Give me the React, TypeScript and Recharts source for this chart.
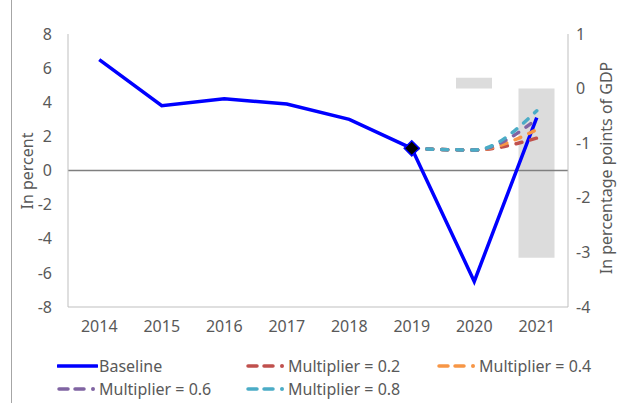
import React from 'react';
import { Bar, ComposedChart, Line, ReferenceLine, XAxis, YAxis } from 'recharts';

const years = ['2014', '2015', '2016', '2017', '2018', '2019', '2020', '2021'];
const baseline = [6.5, 3.8, 4.2, 3.9, 3.0, 1.3, -6.5, 3.1];
const mult02 = [null, null, null, null, null, 1.3, 1.2, 1.9];
const mult04 = [null, null, null, null, null, 1.3, 1.2, 2.4];
const mult06 = [null, null, null, null, null, 1.3, 1.2, 3.0];
const mult08 = [null, null, null, null, null, 1.3, 1.2, 3.5];
const gdpBars = [null, null, null, null, null, null, 0.2, -3.1];

const leftTicks = [-8, -6, -4, -2, 0, 2, 4, 6, 8];
const rightTicks = [-4, -3, -2, -1, 0, 1];

const multSeries = [
  { key: 'm02', name: 'Multiplier = 0.2', color: '#c0504d' },
  { key: 'm04', name: 'Multiplier = 0.4', color: '#f79646' },
  { key: 'm06', name: 'Multiplier = 0.6', color: '#8064a2' },
  { key: 'm08', name: 'Multiplier = 0.8', color: '#4bacc6' },
];

const data = years.map((year, i) => ({
  year,
  baseline: baseline[i],
  m02: mult02[i],
  m04: mult04[i],
  m06: mult06[i],
  m08: mult08[i],
  gdp: gdpBars[i],
}));

const FONT = '"Noto Sans", "Open Sans", sans-serif';
const TEXT = '#595959';
const FRAME = '#bfbfbf';
const FS = 16;

// black diamond on the 2019 baseline point
const DiamondDot = (props: any) => {
  const { cx, cy, index } = props;
  if (index !== 5 || cx == null) return <g key={`d-${index}`} />;
  const r = 7.5;
  return (
    <path
      key={`d-${index}`}
      d={`M${cx},${cy - r} L${cx + r},${cy} L${cx},${cy + r} L${cx - r},${cy} Z`}
      fill="#000"
      stroke="#0000ff"
      strokeWidth={1.5}
    />
  );
};

const LegendIcon: React.FC<{ color: string; dashed?: boolean }> = ({ color, dashed }) => (
  <svg width={41} height={10} style={{ display: 'block' }}>
    {dashed ? (
      <g stroke={color} strokeWidth={3.5} strokeLinecap="round">
        <line x1={2} y1={5} x2={11} y2={5} />
        <line x1={18} y1={5} x2={27} y2={5} />
        <circle cx={36} cy={5} r={2} fill={color} stroke="none" />
      </g>
    ) : (
      <line x1={1} y1={5} x2={40} y2={5} stroke={color} strokeWidth={3.5} strokeLinecap="round" />
    )}
  </svg>
);

const legendItems = [
  { name: 'Baseline', color: '#0000ff', dashed: false, x: 57, y: 366 },
  { name: multSeries[0].name, color: multSeries[0].color, dashed: true, x: 246, y: 366 },
  { name: multSeries[1].name, color: multSeries[1].color, dashed: true, x: 437, y: 366 },
  { name: multSeries[2].name, color: multSeries[2].color, dashed: true, x: 57, y: 389 },
  { name: multSeries[3].name, color: multSeries[3].color, dashed: true, x: 246, y: 389 },
];

export default function App() {
  return (
    <div style={{ position: 'absolute', left: 0, top: 0, width: 623, height: 403, background: '#fff', fontFamily: FONT }}>
      <div style={{ position: 'absolute', left: 11, top: 0, width: 1, height: 403, background: '#a6a6a6' }} />
      <ComposedChart
        width={623}
        height={403}
        data={data}
        margin={{ top: 34, right: 15, bottom: 66, left: 28 }}
      >
        <XAxis
          dataKey="year"
          xAxisId="bottom"
          tickLine={false}
          axisLine={{ stroke: FRAME }}
          tick={{ fill: TEXT, fontSize: FS, fontFamily: FONT }}
          tickMargin={8}
          height={30}
        />
        <XAxis dataKey="year" xAxisId="top" orientation="top" tick={false} tickLine={false} axisLine={{ stroke: FRAME }} height={0} />
        <YAxis
          yAxisId="left"
          domain={[-8, 8]}
          ticks={leftTicks}
          tickLine={false}
          axisLine={{ stroke: FRAME }}
          width={40}
          tickMargin={10}
          tick={{ fill: TEXT, fontSize: FS, fontFamily: FONT }}
        />
        <YAxis
          yAxisId="right"
          orientation="right"
          domain={[-4, 1]}
          ticks={rightTicks}
          tickLine={false}
          axisLine={{ stroke: FRAME }}
          width={40}
          tickMargin={2}
          tick={{ fill: TEXT, fontSize: FS, fontFamily: FONT }}
        />
        <Bar dataKey="gdp" yAxisId="right" xAxisId="bottom" fill="#dcdcdc" barSize={36} isAnimationActive={false} />
        <ReferenceLine y={0} yAxisId="left" xAxisId="bottom" stroke="#7f7f7f" strokeWidth={1.5} />
        <Line
          dataKey="baseline"
          name="Baseline"
          yAxisId="left"
          xAxisId="bottom"
          type="linear"
          stroke="#0000ff"
          strokeWidth={3.5}
          dot={DiamondDot}
          activeDot={false}
          isAnimationActive={false}
        />
        {multSeries.map((s) => (
          <Line
            key={s.key}
            dataKey={s.key}
            name={s.name}
            yAxisId="left"
            xAxisId="bottom"
            type="monotone"
            stroke={s.color}
            strokeWidth={3.5}
            strokeDasharray="6 9"
            strokeLinecap="round"
            dot={false}
            activeDot={false}
            isAnimationActive={false}
          />
        ))}
      </ComposedChart>
      <svg width={623} height={403} style={{ position: 'absolute', left: 0, top: 0, pointerEvents: 'none' }}>
        <text x={0} y={0} transform="translate(33,171) rotate(-90)" textAnchor="middle" fill={TEXT} fontSize={FS} fontFamily={FONT}>
          In percent
        </text>
        <text x={0} y={0} transform="translate(612,168) rotate(-90)" textAnchor="middle" fill={TEXT} fontSize={FS} fontFamily={FONT}>
          In percentage points of GDP
        </text>
      </svg>
      {legendItems.map((it) => (
        <div
          key={it.name}
          style={{ position: 'absolute', left: it.x, top: it.y - 11, height: 22, display: 'flex', alignItems: 'center', color: TEXT, fontSize: FS, whiteSpace: 'nowrap' }}
        >
          <LegendIcon color={it.color} dashed={it.dashed} />
          <span style={{ marginLeft: 1 }}>{it.name}</span>
        </div>
      ))}
    </div>
  );
}
